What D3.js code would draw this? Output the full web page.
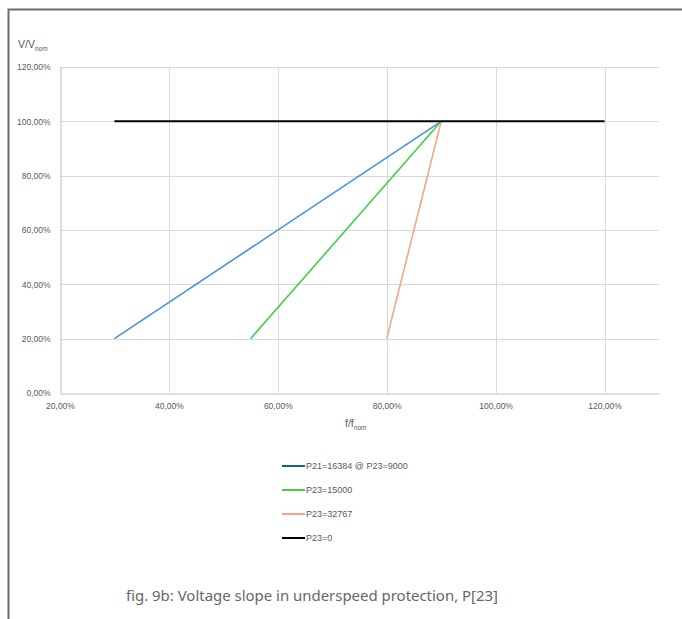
<!DOCTYPE html>
<html>
<head>
<meta charset="utf-8">
<script src="https://cdn.jsdelivr.net/npm/d3@7"></script>
<style>
  body { margin: 0; background: #fff; }
  svg { display: block; font-family: "Liberation Sans", Arial, sans-serif; }
</style>
</head>
<body>
<script>
// chart data (percent of nominal)
var xTicks = [20, 40, 60, 80, 100, 120];
var yTicks = [0, 20, 40, 60, 80, 100, 120];
var seriesNames = ["P21=16384 @ P23=9000", "P23=15000", "P23=32767", "P23=0"];
var seriesColors = ["#4a90d9", "#3fcf4a", "#f5a57f", "#000000"];
var legendColors = ["#1f5f7f", "#3fcf4a", "#f5a57f", "#000000"];
var blueF = [30, 90], blueV = [20, 100];
var greenF = [55, 90], greenV = [20, 100];
var orangeF = [80, 90], orangeV = [20, 100];
var blackF = [30, 90, 120], blackV = [100, 100, 100];
var seriesF = [blueF, greenF, orangeF, blackF];
var seriesV = [blueV, greenV, orangeV, blackV];

var width = 682, height = 619;
var svg = d3.select("body").append("svg")
    .attr("width", width).attr("height", height);

// outer frame (left and top edges only visible)
svg.append("path")
    .attr("d", "M8.5,619 V9.5 H682")
    .style("fill", "none").style("stroke", "#6b6b6b").style("stroke-width", 2);

var x = d3.scaleLinear().domain([20, 130]).range([60, 659]);
var y = d3.scaleLinear().domain([0, 120]).range([393, 67]);

function pct(v) { return v.toFixed(2).replace(".", ",") + "%"; }

// grid
svg.append("g").selectAll("line").data(yTicks.slice(1)).enter().append("line")
    .attr("x1", x(20)).attr("x2", x(130))
    .attr("y1", function (d) { return Math.round(y(d)) + 0.5; })
    .attr("y2", function (d) { return Math.round(y(d)) + 0.5; })
    .style("stroke", "#d9d9d9");
svg.append("g").selectAll("line").data(xTicks.slice(1)).enter().append("line")
    .attr("y1", y(0)).attr("y2", y(120))
    .attr("x1", function (d) { return Math.round(x(d)) + 0.5; })
    .attr("x2", function (d) { return Math.round(x(d)) + 0.5; })
    .style("stroke", "#d9d9d9");

// axes
var xAxis = svg.append("g").attr("transform", "translate(0," + (Math.round(y(0)) + 0.5) + ")")
    .call(d3.axisBottom(x).tickValues(xTicks).tickSize(0).tickFormat(pct).tickPadding(9));
var yAxis = svg.append("g").attr("transform", "translate(" + (Math.round(x(20)) + 0.5) + ",0)")
    .call(d3.axisLeft(y).tickValues(yTicks).tickSize(0).tickFormat(pct).tickPadding(10));
[xAxis, yAxis].forEach(function (a) {
    a.attr("font-family", null).attr("font-size", null);
    a.select(".domain").style("stroke", "#bfbfbf");
    a.selectAll("text").style("font-size", "8.5px").style("fill", "#595959");
});

// series
var line = d3.line()
    .x(function (d) { return x(d[0]); })
    .y(function (d) { return y(d[1]); });
seriesF.forEach(function (fs, i) {
    var pts = fs.map(function (f, j) { return [f, seriesV[i][j]]; });
    svg.append("path").attr("d", line(pts))
        .style("fill", "none")
        .style("stroke", seriesColors[i])
        .style("stroke-width", i == 3 ? 2 : 1.6);
});

// axis titles
var yt = svg.append("text").attr("x", 18).attr("y", 48)
    .style("font-size", "10.5px").style("fill", "#595959");
yt.append("tspan").text("V/V");
yt.append("tspan").attr("dy", 3).style("font-size", "6.5px").text("nom");
var xt = svg.append("text").attr("x", 345).attr("y", 427)
    .style("font-size", "10.5px").style("fill", "#595959");
xt.append("tspan").text("f/f");
xt.append("tspan").attr("dy", 3).style("font-size", "6.5px").text("nom");

// legend
var lg = svg.append("g").selectAll("g").data(seriesNames).enter().append("g")
    .attr("transform", function (d, i) { return "translate(282," + (466 + i * 24) + ")"; });
lg.append("line").attr("x1", 0).attr("x2", 23)
    .style("stroke", function (d, i) { return legendColors[i]; })
    .style("stroke-width", 2);
lg.append("text").attr("x", 24).attr("y", 3)
    .text(function (d) { return d; })
    .style("font-size", "9px").style("fill", "#595959");

// caption
svg.append("text").attr("x", 126).attr("y", 601)
    .text("fig. 9b: Voltage slope in underspeed protection, P[23]")
    .style("font-family", "'Noto Sans', sans-serif")
    .style("font-size", "15px").style("fill", "#666")
    .attr("textLength", 372).attr("lengthAdjust", "spacingAndGlyphs");
</script>
</body>
</html>
